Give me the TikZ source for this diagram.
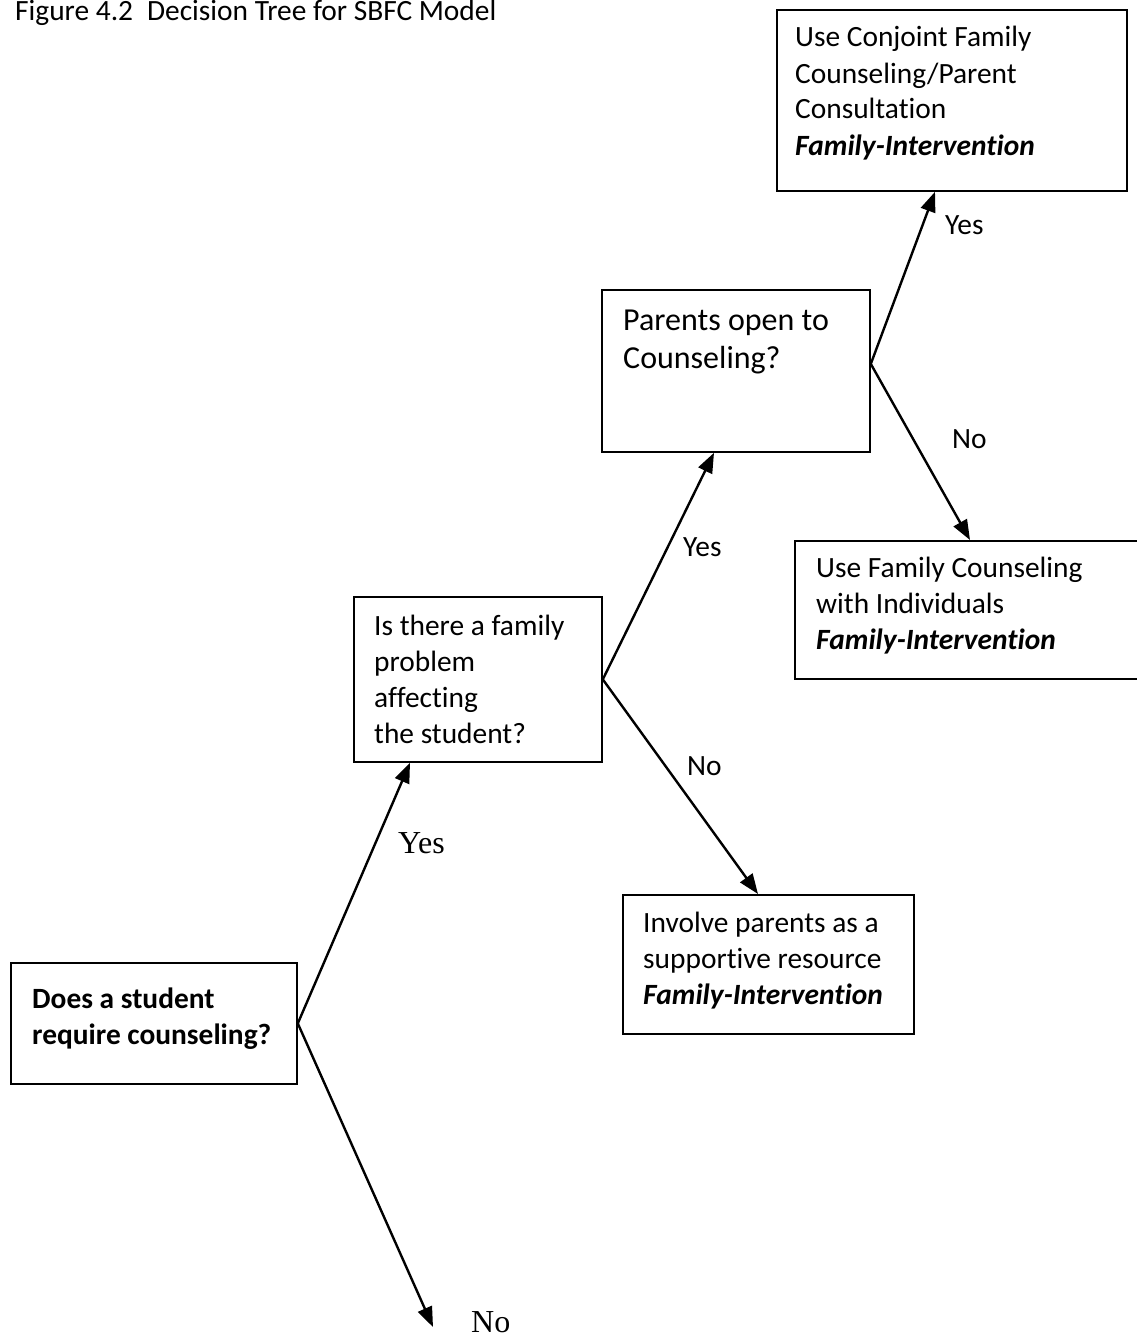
\documentclass[tikz,border=0pt]{standalone}
\usepackage{fontspec}
\setmainfont{Carlito}[Ligatures=NoCommon]
\newfontfamily\labserif{Liberation Serif}
\usetikzlibrary{arrows.meta,calc}
\newcommand{\boxlines}[1]{\parbox[t]{400pt}{\raggedright #1}}
\begin{document}
\begin{tikzpicture}[x=1pt,y=-1pt,
  box/.style={draw, line width=1.8pt, anchor=north west, inner sep=0pt},
  txt/.style={anchor=base west, inner sep=0pt, font=\fontsize{29.4}{36}\selectfont},
  bigtxt/.style={anchor=base west, inner sep=0pt, font=\fontsize{32}{38.5}\selectfont},
  arr/.style={line width=2.4pt, -{Triangle[length=20pt,width=15pt]}},
  ylab/.style={anchor=base west, inner sep=0pt, font=\fontsize{29.4}{36}\selectfont},
  slab/.style={anchor=base west, inner sep=0pt, font=\labserif\fontsize{32}{38}\selectfont}]
\useasboundingbox (0,0) rectangle (1137,1338);
\clip (0,0) rectangle (1137,1338);

% title
\node[txt] (title) at (15,21) {Figure 4.2\hspace{0.25em} Decision Tree for SBFC Model};

% boxes
\node[box, minimum width=350pt, minimum height=181pt] (b4) at (776,9) {};
\node[box, minimum width=268pt, minimum height=162pt] (b3) at (601,289) {};
\node[box, minimum width=248pt, minimum height=165pt] (b2) at (353,596) {};
\node[box, minimum width=400pt, minimum height=138pt] (b5) at (794,540) {};
\node[box, minimum width=291pt, minimum height=139pt] (b6) at (622,894) {};
\node[box, minimum width=286pt, minimum height=121pt] (b1) at (10,962) {};

% box texts
\node[txt] (t4) at (795,47) {\boxlines{Use Conjoint Family\\Counseling/Parent\\Consultation\\\textbf{\textit{Family-Intervention}}}};
\node[bigtxt] (t3) at (623,330) {\boxlines{Parents open to\\Counseling?}};
\node[txt] (t2) at (374,635) {\boxlines{Is there a family\\problem\\affecting\\the student?}};
\node[txt] (t5) at (816,577) {\boxlines{Use Family Counseling\\with Individuals\\\textbf{\textit{Family-Intervention}}}};
\node[txt] (t6) at (643,932) {\boxlines{Involve parents as a\\supportive resource\\\textbf{\textit{Family-Intervention}}}};
\node[txt] (t1) at (32,1008) {\boxlines{\bfseries Does a student\\require counseling?}};

% connector ends
\coordinate (s3) at ([yshift=7pt]b3.east);
\coordinate (e12) at ($(b2.south west)+(57,0)$);
\coordinate (e1no) at (433,1327);
\coordinate (e23) at ($(b3.south west)+(113,0)$);
\coordinate (e26) at ($(b6.north west)+(136,0)$);
\coordinate (e34) at ($(b4.south west)+(159,0)$);
\coordinate (e35) at ($(b5.north west)+(176,0)$);

% connectors
\draw[arr] (b1.east) -- (e12);
\draw[arr] (b1.east) -- (e1no);
\draw[arr] (b2.east) -- (e23);
\draw[arr] (b2.east) -- (e26);
\draw[arr] (s3) -- (e34);
\draw[arr] (s3) -- (e35);

% labels
\node[slab] (l12) at (398,853) {Yes};
\node[slab] (l1no) at (471,1332) {No};
\node[ylab] (l23) at (683,556) {Yes};
\node[ylab] (l26) at (687,775) {No};
\node[ylab] (l34) at (945,234) {Yes};
\node[ylab] (l35) at (952,448) {No};
\end{tikzpicture}
\end{document}
